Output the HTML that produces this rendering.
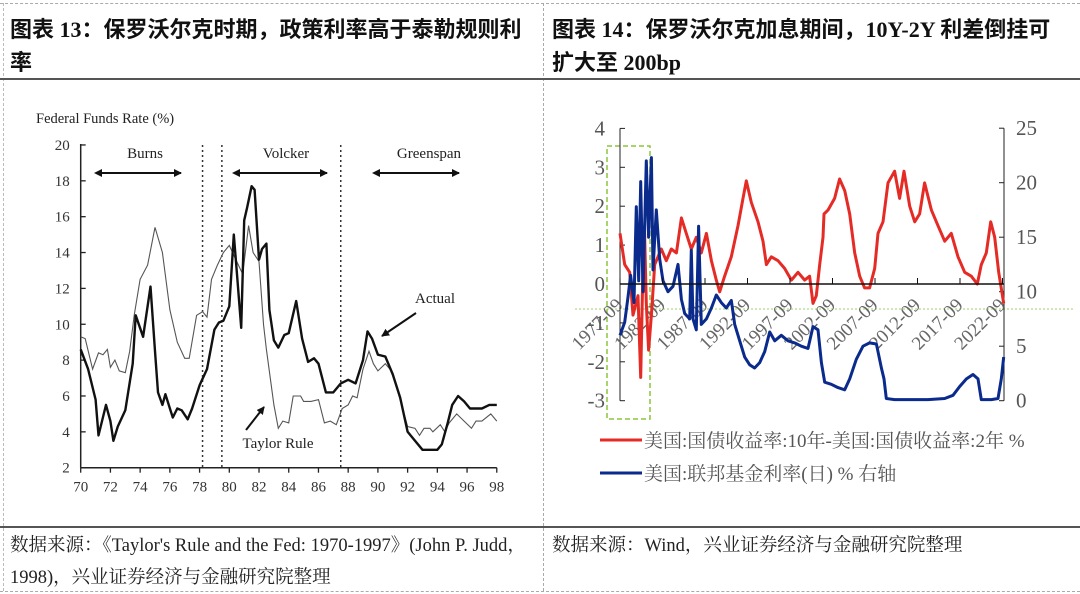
<!DOCTYPE html>
<html><head><meta charset="utf-8"><style>
html,body{margin:0;padding:0;background:#fff;}
body{width:1080px;height:594px;position:relative;overflow:hidden;font-family:"Liberation Serif","Noto Serif CJK SC",serif;}
.t{position:absolute;font-weight:bold;font-size:22px;color:#111;line-height:33px;font-family:"Liberation Serif","Noto Sans CJK SC",serif;white-space:nowrap;}
.f{position:absolute;font-size:18.5px;color:#222;line-height:32px;font-family:"Liberation Serif","Noto Serif CJK SC",serif;white-space:nowrap;}
</style></head><body>
<div style="position:absolute;left:0;top:3px;width:1080px;border-top:1px dashed #aaa"></div>
<div style="position:absolute;left:0;top:591px;width:1080px;border-top:1px dashed #aaa"></div>
<div style="position:absolute;left:543px;top:3px;height:588px;border-left:1px dashed #aaa"></div>
<div style="position:absolute;left:3px;top:3px;height:588px;border-left:1px dashed #bbb"></div>
<div style="position:absolute;left:0;top:78px;width:1080px;border-top:2px solid #555"></div>
<div style="position:absolute;left:0;top:526px;width:1080px;border-top:2px solid #555"></div>
<div class="t" style="left:10px;top:13px;">图表 13：保罗沃尔克时期，政策利率高于泰勒规则利<br>率</div>
<div class="t" style="left:552px;top:13px;">图表 14：保罗沃尔克加息期间，10Y-2Y 利差倒挂可<br>扩大至 200bp</div>
<div class="f" style="left:10px;top:530px;">数据来源：《Taylor's Rule and the Fed: 1970-1997》(John P. Judd，<br>1998)，兴业证券经济与金融研究院整理</div>
<div class="f" style="left:552px;top:530px;">数据来源：Wind，兴业证券经济与金融研究院整理</div>

<svg id="left" width="543" height="440" style="position:absolute;left:0;top:85px" font-family="Liberation Serif, serif"></svg>
<svg id="right" width="537" height="440" style="position:absolute;left:543px;top:85px" font-family="Liberation Serif, Noto Serif CJK SC, serif"></svg>

<script>
// ---- Left chart data ----
const actualYears=[70,70.5,71,71.2,71.7,72,72.2,72.5,73,73.5,73.7,74.2,74.7,75,75.2,75.5,75.7,76,76.2,76.5,76.8,77.2,77.5,78,78.5,79,79.3,79.6,80,80.3,80.5,80.8,81,81.2,81.5,81.7,82,82.2,82.5,82.7,83,83.3,83.7,84,84.5,84.9,85.3,85.7,86,86.5,87,87.5,88,88.5,89,89.3,89.6,90,90.5,91,91.5,92,92.5,93,93.5,94,94.3,94.7,95,95.4,95.8,96.2,96.5,97,97.5,98];
const actualValues=[8.6,7.5,5.8,3.8,5.5,4.6,3.5,4.3,5.2,7.8,10.5,9.3,12.1,8.5,6.2,5.5,6.1,5.3,4.8,5.3,5.2,4.7,5.3,6.6,7.5,9.7,10.1,10.2,11,15,13,9.8,15.8,16.5,17.7,17.5,13.6,14.2,14.5,10.8,9.1,8.7,9.4,9.5,11.3,9.2,7.9,8.1,7.8,6.2,6.2,6.7,6.9,6.7,8,9.6,9.2,8.3,8.2,7.2,5.9,4,3.5,3,3,3,3.3,4.5,5.5,6,5.7,5.3,5.3,5.3,5.5,5.5];
const taylorYears=[70,70.3,70.8,71.2,71.5,71.8,72,72.3,72.6,73,73.3,73.6,74,74.5,75,75.5,76,76.5,77,77.3,77.8,78.2,78.5,78.8,79.2,79.6,80,80.5,80.9,81.3,81.6,82,82.3,82.5,83,83.3,83.6,84,84.3,84.8,85,85.5,86,86.4,86.8,87.2,87.6,88,88.3,88.6,89,89.4,89.7,90,90.5,91,91.5,92,92.5,92.8,93.1,93.5,93.7,94.2,94.5,94.8,95.3,95.8,96.3,96.6,97,97.6,98];
const taylorValues=[9.3,9.2,7.5,8.4,8.3,8.6,7.6,8,7.4,7.3,8.5,10.5,12.5,13.3,15.4,14,10.8,9,8.1,8.1,10.5,10.7,10.4,12.5,13.3,14,14.4,13.5,12.8,15.5,14,13.5,10,8.6,5.5,4.2,4.6,4.5,6,6,5.7,5.7,5.8,4.5,4.6,4.4,5.3,5.5,6,5.9,7.5,8.5,7.8,7.4,7.8,7.3,5.8,4.3,4.2,3.8,4.2,4.2,4,4.4,4,4.5,5,4.6,4.2,4.6,4.6,5,4.6];
const leftYTicks=[2,4,6,8,10,12,14,16,18,20];
const leftXTicks=[70,72,74,76,78,80,82,84,86,88,90,92,94,96,98];
const eraLines=[78.2,79.5,87.5];

// ---- Right chart data ----
const spreadDates=[1977.7,1978.25,1978.84,1979.23,1979.82,1980.13,1980.41,1980.6,1980.8,1981.07,1981.39,1981.78,1982.56,1983.15,1983.74,1984.33,1984.92,1985.5,1986.09,1986.68,1987.27,1987.86,1988.45,1989.03,1989.43,1990.01,1990.8,1991.58,1992.17,1992.56,1993.15,1993.94,1994.52,1994.92,1995.5,1996.29,1997.07,1997.86,1998.64,1999.43,2000.01,2000.41,2000.8,2001.19,2001.58,2001.7,2002.17,2002.95,2003.54,2004.13,2004.72,2005.31,2005.9,2006.48,2007.07,2007.66,2008.05,2008.64,2009.23,2010.01,2010.6,2011.11,2011.78,2012.37,2012.95,2013.54,2014.33,2015.11,2015.9,2016.68,2017.46,2018.25,2019.03,2019.74,2020.21,2020.8,2021.31,2021.78,2022.25,2022.84];
const spreadValues=[1.3,0.5,0.3,-0.8,-0.3,-2.4,0.5,1.3,-0.5,-1.7,-0.8,0.5,0.9,0.6,0.9,0.8,1.7,1.3,0.9,1.2,0.8,1.3,0.6,0.1,-0.2,0.2,0.7,1.5,2.2,2.65,2.1,1.6,1.1,0.5,0.7,0.6,0.4,0.1,0.3,0.1,0.2,-0.5,-0.3,0.5,1.2,1.8,1.9,2.2,2.7,2.4,1.8,0.8,0.2,-0.1,-0.1,0.4,1.3,1.6,2.6,2.9,2.2,2.9,2.0,1.6,1.8,2.6,1.9,1.5,1.1,1.3,0.7,0.3,0.2,0.0,0.5,0.8,1.6,1.2,0.3,-0.5];
const fedDates=[1977.7,1978.25,1978.64,1978.95,1979.35,1979.62,1979.9,1980.13,1980.41,1980.8,1981.07,1981.39,1981.58,1981.97,1982.37,1982.76,1983.35,1983.94,1984.52,1984.92,1985.31,1985.9,1986.09,1986.29,1986.68,1986.95,1987.27,1987.86,1988.45,1989.03,1989.62,1990.21,1990.8,1991.19,1991.78,1992.37,1992.95,1993.54,1994.13,1994.72,1995.31,1995.9,1996.68,1997.46,1998.25,1999.03,1999.82,2000.41,2001.0,2001.39,2001.78,2002.56,2003.35,2004.13,2004.72,2005.5,2006.29,2007.07,2007.86,2008.45,2008.76,2009.03,2010.01,2011.97,2013.94,2015.9,2016.88,2017.66,2018.45,2019.23,2019.82,2020.21,2021.39,2022.17,2022.56,2022.84];
const fedValues=[6.0,7.2,9.5,11.5,9.0,17.8,11,20.1,10,22.0,15,22.3,12,17.5,13,11,10,10.5,12.5,9.3,8.0,7.5,13.8,7.5,6.5,16,7,7.5,8.5,9.7,9.0,8.5,9.2,7.0,5.5,4.0,3.3,3.0,3.5,4.5,6.3,5.5,6.0,5.5,5.3,5.0,4.8,6.8,6.5,3.5,1.7,1.5,1.2,1.0,2.0,3.8,5.0,5.3,5.2,3.0,2.0,0.2,0.1,0.1,0.1,0.2,0.5,1.3,2.0,2.4,2.0,0.1,0.1,0.2,2.0,4.0];
const xTickLabels=["1977-09","1982-09","1987-09","1992-09","1997-09","2002-09","2007-09","2012-09","2017-09","2022-09"];
const xTickDates=[1977.7,1982.7,1987.7,1992.7,1997.7,2002.7,2007.7,2012.7,2017.7,2022.7];
const leftAxisTicks=[4,3,2,1,0,-1,-2,-3];
const rightAxisTicks=[25,20,15,10,5,0];

const NS="http://www.w3.org/2000/svg";
function mk(svg,tag,attrs,txt){const e=document.createElementNS(NS,tag);for(const k in attrs)e.setAttribute(k,attrs[k]);if(txt!==undefined)e.textContent=txt;svg.appendChild(e);return e;}

// ===== Left chart =====
(function(){
const s=document.getElementById('left');
const X=y=>80.7+(y-70)*14.86, Y=v=>382.7-(v-2)*17.93;
let e;
e=mk(s,'text',{x:36,y:38,'font-size':14.5,fill:'#222'},'Federal Funds Rate (%)');


mk(s,'line',{x1:X(70),y1:Y(20)-1,x2:X(70),y2:Y(2),stroke:'#222','stroke-width':1.5});
mk(s,'line',{x1:X(70),y1:Y(2),x2:X(98),y2:Y(2),stroke:'#222','stroke-width':1.5});
leftYTicks.forEach(v=>{
 mk(s,'line',{x1:X(70),y1:Y(v),x2:X(70)+5,y2:Y(v),stroke:'#222','stroke-width':1.3});
 e=mk(s,'text',{x:X(70)-11,y:Y(v)+5,'font-size':15,'text-anchor':'end',fill:'#333'},v);
 
 
});
leftXTicks.forEach(v=>{
 mk(s,'line',{x1:X(v),y1:Y(2),x2:X(v),y2:Y(2)+5,stroke:'#222','stroke-width':1.3});
 e=mk(s,'text',{x:X(v),y:Y(2)+24,'font-size':15,'text-anchor':'middle',fill:'#333'},v);
 
 
});
eraLines.forEach(v=>{
 e=mk(s,'line',{x1:X(v),y1:Y(20),x2:X(v),y2:Y(2),stroke:'#333','stroke-width':1.5,'stroke-dasharray':'2,3'});
 
 
});
const pts=(xs,vs)=>xs.map((x,i)=>X(x).toFixed(1)+','+Y(vs[i]).toFixed(1)).join(' ');
e=mk(s,'polyline',{points:pts(taylorYears,taylorValues),fill:'none',stroke:'#555','stroke-width':1.1});


e=mk(s,'polyline',{points:pts(actualYears,actualValues),fill:'none',stroke:'#111','stroke-width':2.4,'stroke-linejoin':'round'});


mk(s,'defs',{}).innerHTML='<marker id="ah" markerWidth="8" markerHeight="8" refX="7" refY="4" orient="auto" markerUnits="userSpaceOnUse"><path d="M0,0 L8,4 L0,8 z" fill="#111"/></marker><marker id="ahs" markerWidth="8" markerHeight="8" refX="1" refY="4" orient="auto-start-reverse" markerUnits="userSpaceOnUse"><path d="M0,0 L8,4 L0,8 z" fill="#111"/></marker>';
[['Burns',145,97,185],['Volcker',286,235,331],['Greenspan',429,375,463]].forEach(a=>{
 e=mk(s,'text',{x:a[1],y:73,'font-size':15,'text-anchor':'middle',fill:'#222'},a[0]);
 
 
 e=mk(s,'line',{x1:a[2]+4,y1:88,x2:a[3]-4,y2:88,stroke:'#111','stroke-width':2,'marker-end':'url(#ah)','marker-start':'url(#ahs)'});
 
 
});
e=mk(s,'text',{x:415,y:218,'font-size':15,fill:'#222'},'Actual');


mk(s,'line',{x1:416,y1:228,x2:382,y2:251,stroke:'#111','stroke-width':2,'marker-end':'url(#ah)'});
e=mk(s,'text',{x:278,y:363,'font-size':15,'text-anchor':'middle',fill:'#222'},'Taylor Rule');


mk(s,'line',{x1:246,y1:345,x2:264,y2:322,stroke:'#111','stroke-width':2,'marker-end':'url(#ah)'});
})();

// ===== Right chart =====
(function(){
const s=document.getElementById('right');
const X=t=>77+(t-1977.7)*8.5;
const YL=v=>199-v*38.9;
const YR=v=>315.7-v*10.9;
let e;
e=mk(s,'line',{x1:32,y1:224,x2:532,y2:224,stroke:'#9fd36a','stroke-width':1,'stroke-dasharray':'2,2'});


e=mk(s,'rect',{x:64,y:61,width:43,height:273,fill:'none',stroke:'#8cc63f','stroke-width':1.5,'stroke-dasharray':'5,3'});


mk(s,'line',{x1:77,y1:YL(4),x2:77,y2:YL(-3),stroke:'#222','stroke-width':1});
mk(s,'line',{x1:461,y1:YR(25),x2:461,y2:YR(0),stroke:'#222','stroke-width':1});
leftAxisTicks.forEach(v=>{
 mk(s,'line',{x1:77,y1:YL(v),x2:82,y2:YL(v),stroke:'#222'});
 e=mk(s,'text',{x:62,y:YL(v)+7,'font-size':21,'text-anchor':'end',fill:'#555'},v);
 
 
});
rightAxisTicks.forEach(v=>{
 mk(s,'line',{x1:456,y1:YR(v),x2:461,y2:YR(v),stroke:'#222'});
 e=mk(s,'text',{x:473,y:YR(v)+7,'font-size':21,fill:'#555'},v);
 
 
});
xTickDates.forEach((t,i)=>{
 e=mk(s,'text',{x:0,y:0,'font-size':19,'text-anchor':'end',fill:'#666',transform:'translate('+(X(t)+4)+','+(YL(0)+22)+') rotate(-45)'},xTickLabels[i]);
 
 
});
const pts=(xs,vs,Y)=>xs.map((x,i)=>X(x).toFixed(1)+','+Y(vs[i]).toFixed(1)).join(' ');
e=mk(s,'polyline',{points:pts(spreadDates,spreadValues,YL),fill:'none',stroke:'#e52b25','stroke-width':3,'stroke-linejoin':'round'});


e=mk(s,'polyline',{points:pts(fedDates,fedValues,YR),fill:'none',stroke:'#0a2a8c','stroke-width':3,'stroke-linejoin':'round'});


e=mk(s,'line',{x1:77,y1:YL(0),x2:461,y2:YL(0),stroke:'#111','stroke-width':1.5});


xTickDates.forEach(t=>mk(s,'line',{x1:X(t),y1:YL(0),x2:X(t),y2:YL(0)-6,stroke:'#111'}));
e=mk(s,'line',{x1:57,y1:355,x2:99,y2:355,stroke:'#e52b25','stroke-width':3});


e=mk(s,'text',{x:101,y:362,'font-size':19,fill:'#555'},'美国:国债收益率:10年-美国:国债收益率:2年 %');


e=mk(s,'line',{x1:57,y1:388,x2:99,y2:388,stroke:'#0a2a8c','stroke-width':3});


e=mk(s,'text',{x:101,y:395,'font-size':19,fill:'#555'},'美国:联邦基金利率(日) % 右轴');


})();
</script>
</body></html>
